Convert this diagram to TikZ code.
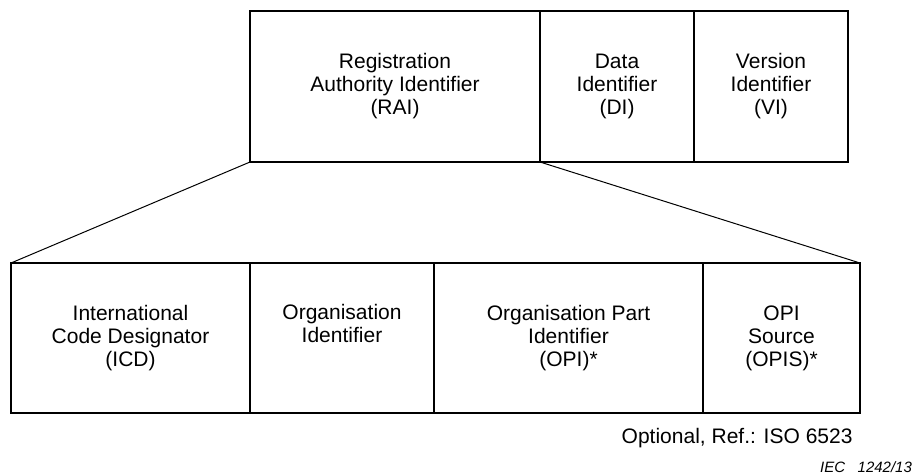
\documentclass[tikz,border=0pt]{standalone}
\usepackage{fontspec}
\setmainfont{Liberation Sans}
\usepackage{tikz}

\begin{document}
\begin{tikzpicture}[x=1pt,y=-1pt,
  cell/.style={draw,line width=1.4pt,outer sep=0pt,inner sep=0pt,align=center,
    font=\fontsize{21}{23}\selectfont},
  fan/.style={line width=1pt}]
\useasboundingbox (0,0) rectangle (916,475);
\node[cell,minimum width=290,minimum height=151] (rai) at (395,86.5) {Registration\\Authority Identifier\\(RAI)};
\node[cell,minimum width=154,minimum height=151] (di) at (617,86.5) {Data\\Identifier\\(DI)};
\node[cell,minimum width=154,minimum height=151] (vi) at (771,86.5) {Version\\Identifier\\(VI)};
\node[cell,minimum width=239,minimum height=150] (icd) at (130.5,338) {International\\Code Designator\\(ICD)};
\node[cell,minimum width=184,minimum height=150] (oi) at (342,338) {Organisation\\Identifier\\\strut};
\node[cell,minimum width=269,minimum height=150] (opi) at (568.5,338) {Organisation Part\\Identifier\\(OPI)*};
\node[cell,minimum width=157,minimum height=150] (opis) at (781.5,338) {OPI\\Source\\(OPIS)*};
\draw[fan] (rai.south west) -- (icd.north west);
\draw[fan] (rai.south east) -- (opis.north east);
\node[anchor=base east,font=\fontsize{21}{23}\selectfont] (opt) at (856,443) {Optional, Ref.: ISO 6523};
\node[anchor=base west,inner sep=0pt,font=\fontsize{15}{17}\selectfont\itshape] (iec) at (820,472) {IEC\ \ \ 1242/13};
\end{tikzpicture}
\end{document}
